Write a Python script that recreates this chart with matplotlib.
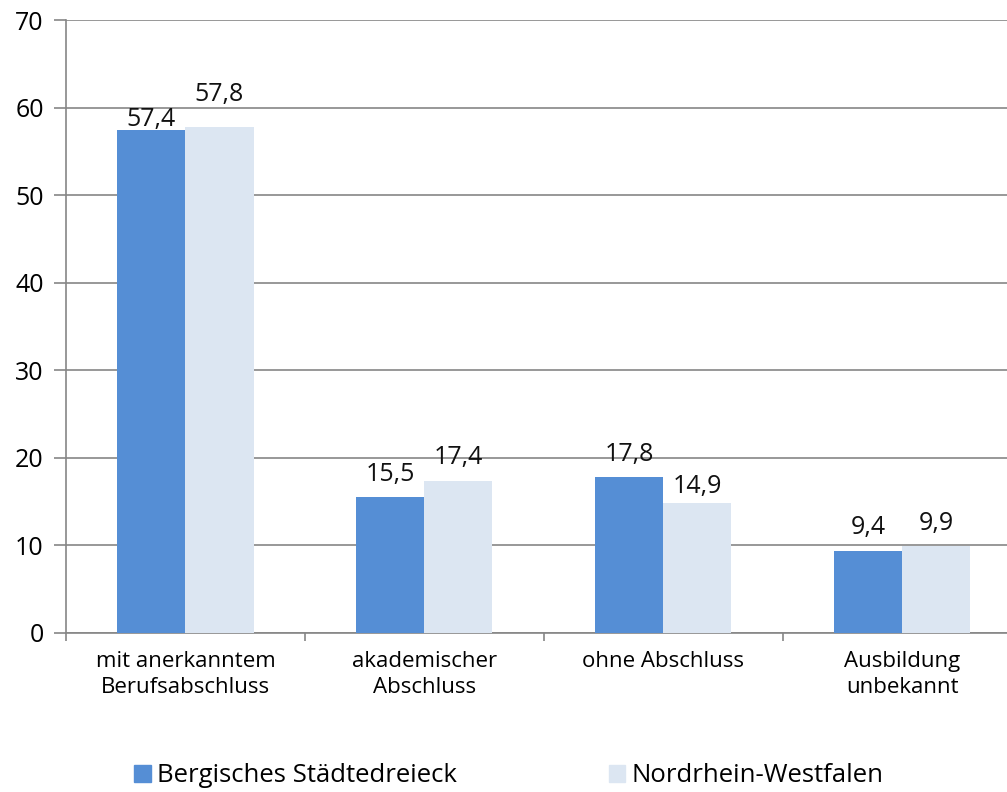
import matplotlib
matplotlib.use("Agg")
import matplotlib.pyplot as plt
from matplotlib.patches import Patch
import numpy as np

categories = ["mit anerkanntem\nBerufsabschluss", "akademischer\nAbschluss", "ohne Abschluss", "Ausbildung\nunbekannt"]
series_names = ["Bergisches Städtedreieck", "Nordrhein-Westfalen"]
bergisch = [57.4, 15.5, 17.8, 9.4]
nrw = [57.8, 17.4, 14.9, 9.9]
yticks = [0, 10, 20, 30, 40, 50, 60, 70]

# label vertical offsets in points (layout, mimicking the original's overlap avoidance)
off_bergisch = [-1, 7.5, 7.5, 7.5]
off_nrw = [14, 7.5, 2.5, 7.5]

c1 = "#558ED5"
c2 = "#DCE6F2"
grid = "#868686"

plt.rcParams['font.family'] = ['Open Sans', 'DejaVu Sans']

fig = plt.figure(figsize=(10.07, 7.92), dpi=100)
ax = fig.add_axes([66/1007, 159/792, 955.5/1007, 613/792])

x = np.arange(len(categories))
w = 0.285
b1 = ax.bar(x - w/2, bergisch, w, color=c1, zorder=3)
b2 = ax.bar(x + w/2, nrw, w, color=c2, zorder=3)

def fmt(v):
    return f"{v:.1f}".replace(".", ",")

for bars, vals, offs in ((b1, bergisch, off_bergisch), (b2, nrw, off_nrw)):
    for r, v, o in zip(bars, vals, offs):
        ax.annotate(fmt(v), (r.get_x() + r.get_width()/2, v), xytext=(0, o),
                    textcoords="offset points", ha="center", va="bottom",
                    fontsize=18, color="#111111", zorder=4)

ax.set_xlim(-0.5, len(categories) - 0.5)
ax.set_ylim(0, 70)
ax.set_yticks(yticks)
ax.set_yticklabels([str(t) for t in yticks], fontsize=18)
ax.yaxis.grid(True, color=grid, linewidth=1.2, zorder=0)
ax.set_axisbelow(True)

ax.set_xticks(x)
ax.set_xticklabels(categories, fontsize=16, linespacing=1.3)
ax.tick_params(axis="x", length=0, pad=13)
ax.set_xticks(np.arange(len(categories) + 1) - 0.5, minor=True)
ax.tick_params(axis="x", which="minor", length=6, color=grid, width=1.2)
ax.tick_params(axis="y", length=9, color=grid, width=1.2, pad=7)

for s in ["top", "right"]:
    ax.spines[s].set_visible(False)
for s in ["left", "bottom"]:
    ax.spines[s].set_color(grid)
    ax.spines[s].set_linewidth(1.2)

handles = [Patch(color=c1), Patch(color=c2)]
fig.legend(handles, series_names, loc="center left", bbox_to_anchor=(111/1007, 1 - 776/792),
           ncol=2, frameon=False, fontsize=18.5, handlelength=0.65, handleheight=0.65,
           handletextpad=0.25, columnspacing=5.9)

fig.savefig("out.png", dpi=100)
